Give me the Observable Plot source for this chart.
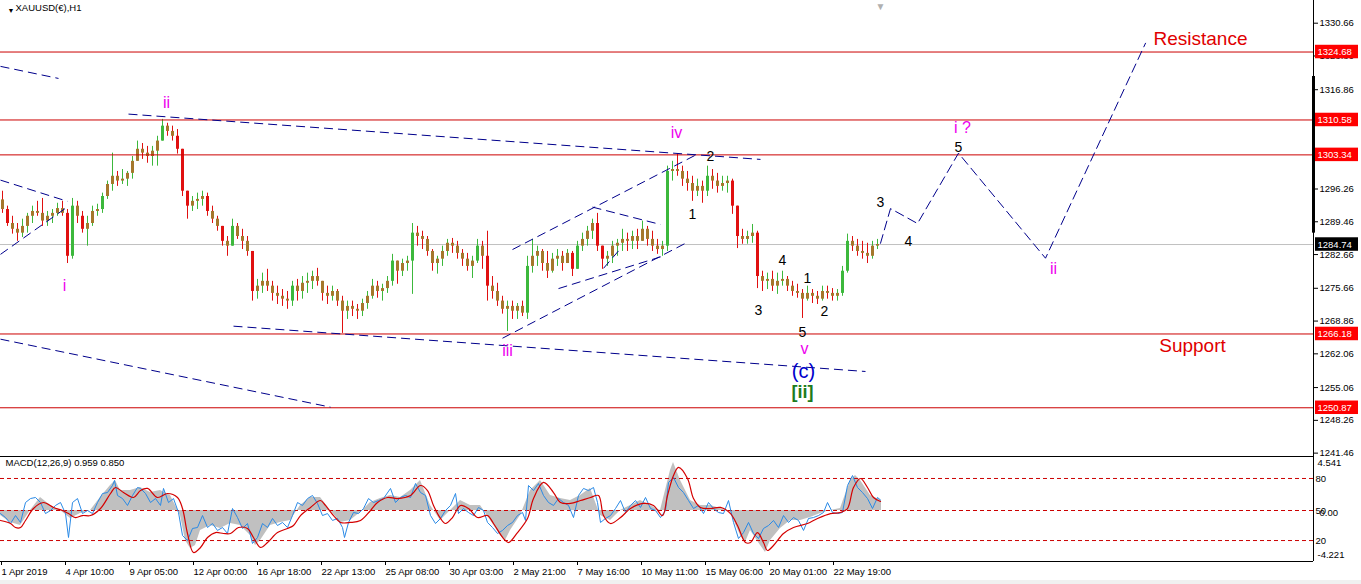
<!DOCTYPE html>
<html><head><meta charset="utf-8">
<script src="https://cdn.jsdelivr.net/npm/d3@7"></script>
<script src="https://cdn.jsdelivr.net/npm/@observablehq/plot@0.6"></script>
<style>
html,body{margin:0;padding:0;background:#fff;}
#wrap{position:relative;width:1361px;height:584px;overflow:hidden;background:#fff;}
#main{position:absolute;left:0;top:0;}
#macd{position:absolute;left:0;top:456px;}
#strip{position:absolute;left:0;top:580px;width:1361px;height:4px;background:#f0f0f0;}
</style></head><body>
<div id="wrap"><div id="main"></div><div id="macd"></div><div id="strip"></div></div>
<script>
// ---------- DATA ----------
const titleText = "XAUUSD(€),H1";
const priceTicks = [1330.66,1323.86,1316.86,1310.06,1303.26,1296.26,1289.46,1282.66,1275.66,1268.86,1262.06,1255.06,1248.26,1241.46];
const levels = [1324.68,1310.58,1303.34,1266.18,1250.87];
const lastPrice = 1284.74;
const scaleBar = [1319.6, 1287.1];

// H1 candles aggregated in groups of 5 bars
const barsPerCandle = 5;
const firstOpen = 1294.0;
const candleHigh = [1295.8,1292.7,1290.6,1289.1,1290.0,1291.2,1292.7,1293.7,1294.3,1291.6,
1292.0,1293.3,1293.7,1292.0,1294.3,1293.7,1291.6,1290.6,1292.7,1293.1,
1295.4,1297.9,1303.7,1299.9,1300.3,1299.9,1303.0,1306.2,1305.7,1305.1,
1305.1,1307.2,1310.7,1309.9,1309.3,1308.6,1304.5,1295.8,1294.7,1295.4,
1295.8,1295.4,1292.7,1290.6,1288.5,1286.4,1290.0,1289.1,1287.9,1286.4,
1283.3,1277.5,1278.8,1279.6,1277.1,1276.1,1275.4,1275.0,1277.1,1277.5,
1278.1,1278.8,1279.2,1279.8,1277.1,1276.1,1276.1,1275.4,1274.0,1273.0,
1273.0,1272.3,1273.4,1275.0,1277.5,1277.1,1276.5,1278.1,1282.7,1280.8,
1281.7,1282.3,1289.1,1288.5,1287.5,1286.4,1283.7,1282.3,1284.4,1285.8,
1286.0,1285.4,1283.7,1282.9,1282.3,1285.8,1285.4,1287.5,1278.1,1276.7,
1274.0,1273.0,1273.0,1272.5,1273.0,1282.3,1285.8,1284.4,1283.7,1283.3,
1282.9,1283.7,1283.3,1283.7,1283.3,1285.4,1287.1,1288.5,1290.0,1291.2,
1284.4,1283.3,1285.4,1285.8,1287.9,1287.1,1287.5,1287.9,1289.6,1288.5,
1287.5,1285.8,1285.4,1301.0,1302.0,1303.5,1301.0,1299.9,1298.9,1298.3,
1297.9,1301.0,1300.3,1299.5,1298.9,1298.9,1298.3,1292.7,1287.9,1287.5,
1288.9,1287.5,1279.2,1278.8,1279.2,1278.8,1279.2,1278.1,1277.1,1276.5,
1275.4,1276.1,1275.4,1275.0,1276.1,1276.1,1275.6,1275.4,1280.2,1286.9,
1286.4,1285.8,1285.4,1285.0,1285.4,1285.8];
const candleLow = [1291.2,1288.5,1286.9,1285.4,1286.2,1287.1,1289.1,1290.6,1288.5,1288.5,
1289.1,1290.6,1290.6,1280.8,1281.7,1289.1,1287.1,1284.4,1288.5,1290.6,
1291.2,1294.1,1295.8,1296.8,1297.2,1296.8,1298.3,1302.0,1302.4,1301.6,
1301.0,1301.0,1306.2,1307.2,1306.2,1303.5,1294.7,1290.0,1291.6,1292.0,
1292.7,1290.6,1289.1,1287.5,1284.4,1282.3,1285.4,1285.8,1283.7,1282.3,
1273.0,1273.4,1274.6,1275.0,1273.0,1272.3,1271.9,1271.3,1271.9,1273.0,
1273.4,1274.6,1275.4,1276.1,1273.0,1272.3,1273.0,1271.9,1266.3,1269.2,
1269.8,1269.2,1269.8,1271.3,1273.4,1273.6,1273.0,1274.6,1276.1,1276.5,
1278.1,1279.2,1274.4,1284.4,1283.7,1282.3,1279.2,1278.6,1280.2,1282.3,
1282.9,1281.7,1280.2,1279.2,1277.7,1280.8,1279.6,1273.0,1273.4,1271.9,
1270.3,1266.7,1269.2,1269.2,1269.8,1269.2,1278.8,1280.2,1279.2,1277.7,
1278.8,1280.2,1279.2,1280.8,1278.1,1280.8,1283.3,1284.4,1285.8,1283.3,
1279.6,1280.2,1280.8,1282.3,1283.3,1283.3,1283.7,1283.7,1285.4,1284.4,
1283.3,1282.7,1282.3,1283.3,1297.9,1298.9,1296.8,1295.8,1293.7,1294.7,
1293.3,1294.7,1296.2,1295.4,1295.8,1295.4,1291.0,1283.9,1284.8,1284.8,
1285.0,1275.6,1275.0,1275.4,1275.0,1274.4,1276.1,1275.0,1274.0,1273.6,
1269.4,1273.0,1272.5,1272.3,1273.0,1273.4,1273.0,1273.0,1274.0,1278.8,
1283.3,1282.3,1281.7,1280.8,1281.7,1283.7];
const candleClose = [1292.0,1289.1,1287.9,1287.1,1288.5,1290.6,1291.6,1291.2,1289.6,1290.6,
1291.2,1292.2,1291.2,1282.3,1292.7,1290.6,1287.9,1289.1,1291.6,1292.0,
1294.7,1297.2,1298.9,1297.9,1298.3,1299.5,1302.0,1304.5,1303.7,1303.0,
1304.1,1306.2,1309.3,1308.2,1307.2,1304.5,1295.8,1292.7,1293.7,1294.1,
1294.7,1291.6,1290.0,1288.5,1285.4,1284.4,1288.5,1286.4,1285.4,1283.3,
1275.0,1276.1,1277.1,1276.1,1274.6,1274.0,1273.4,1273.0,1276.1,1275.0,
1276.7,1277.1,1278.1,1277.1,1274.6,1274.0,1275.0,1273.0,1270.9,1271.9,
1271.3,1270.9,1272.5,1274.0,1276.1,1275.0,1275.6,1277.1,1281.3,1279.2,
1280.8,1281.3,1287.1,1286.4,1285.8,1283.3,1280.8,1281.7,1283.3,1285.0,
1284.4,1282.9,1281.7,1280.2,1281.3,1284.4,1282.3,1276.1,1275.0,1273.0,
1271.3,1271.9,1270.9,1271.9,1270.5,1280.2,1282.3,1283.3,1280.8,1279.2,
1281.7,1282.3,1280.8,1282.9,1279.6,1284.4,1285.8,1287.5,1289.1,1284.4,
1281.7,1282.3,1284.4,1285.0,1285.8,1285.4,1286.4,1285.4,1287.9,1285.8,
1284.4,1283.7,1284.4,1299.9,1300.3,1299.9,1298.3,1297.4,1295.8,1296.8,
1295.8,1298.9,1297.9,1296.8,1297.4,1297.9,1292.7,1286.4,1285.8,1286.4,
1287.1,1278.1,1277.1,1277.5,1276.1,1277.1,1277.5,1276.1,1275.0,1274.6,
1273.4,1274.6,1274.0,1273.4,1275.0,1274.6,1274.0,1274.6,1279.2,1285.4,
1284.4,1283.3,1282.9,1282.3,1284.4,1284.74];

// dashed trend lines: [bar1, price1, bar2, price2]
const trendLines = [
  [0,1321.7,58,1319.2],
  [0,1298.1,67,1293.7],
  [0,1282.7,68,1292.7],
  [0,1265.1,330,1251.0],
  [128,1311.8,760,1302.4],
  [233,1267.8,865,1258.4],
  [502,1265.3,685,1285.0],
  [512,1283.7,697,1303.5],
  [592,1292.5,660,1288.9],
  [558,1275.6,662,1282.3],
  [603,1279.8,620,1283.9]
];
// projected wave path: [bar, price]
const projection = [[880,1285.0],[890,1292.2],[917,1289.1],[958,1303.7],[1045,1281.9],[1145,1326.5]];

// wave labels: [text, bar, price, style]
const waveLabels = [
  ["i",64,1276.1,"m"],["ii",166,1314.2,"m"],["iii",507,1262.6,"m"],["iv",676,1308.0,"m"],
  ["v",804,1263.0,"m"],["i ?",962,1308.85,"m"],["ii",1053,1279.6,"m"],
  ["1",692,1291.0,"k"],["2",710,1303.0,"k"],["3",758,1271.1,"k"],["4",782,1281.5,"k"],
  ["1",807,1277.7,"k"],["2",824,1270.9,"k"],["5",802,1266.5,"k"],
  ["3",880,1293.5,"k"],["4",908,1285.4,"k"],["5",958,1304.9,"k"],
  ["(c)",803,1258.4,"c"],["[ii]",802,1254.1,"g"],
  ["Resistance",1200,1327.3,"r"],["Support",1192,1263.8,"r"]
];

const timeLabels = ["1 Apr 2019","4 Apr 10:00","9 Apr 05:00","12 Apr 00:00","16 Apr 18:00","22 Apr 13:00","25 Apr 08:00","30 Apr 03:00","2 May 21:00","7 May 16:00","10 May 11:00","15 May 06:00","20 May 01:00","22 May 19:00"];
const timeTickBars = [0,64,128,192,256,320,384,448,512,576,640,704,768,832];

// MACD panel: [bar, value]
const macdTitle = "MACD(12,26,9) 0.959 0.850";
const macdHist = [[0,-0.48],[10,-1.14],[20,-1.43],[30,0],[40,1.24],[50,0.48],[60,0],[70,-0.76],[80,-0.29],[90,0],[100,1.24],[110,2.38],[115,2.86],[120,1.90],[130,1.90],[140,2.19],[150,1.71],[160,1.90],[170,1.43],[180,-0.48],[185,-2.86],[190,-3.62],[195,-3.33],[200,-1.90],[210,-1.43],[220,-1.71],[230,-1.24],[240,-1.43],[250,-2.38],[255,-3.33],[260,-2.86],[270,-1.43],[280,-1.14],[290,-0.95],[300,0.48],[310,1.24],[320,1.24],[330,0],[340,-1.14],[350,-0.95],[360,-0.19],[370,0.76],[380,1.14],[390,1.43],[400,1.24],[410,1.90],[420,2.86],[430,0.48],[440,-0.95],[450,0],[460,0.95],[470,0.48],[480,0.48],[490,-0.95],[500,-2.38],[505,-2.86],[510,-1.90],[520,-0.48],[530,1.90],[540,2.86],[550,1.43],[560,1.14],[570,0.95],[580,1.43],[590,2.10],[600,-0.48],[610,-0.95],[620,0],[630,0.48],[640,0.95],[650,0.48],[660,0],[665,1.90],[670,3.81],[673,4.57],[680,2.86],[690,0.95],[700,0.48],[710,0.48],[720,0.19],[730,-0.19],[740,-2.38],[745,-3.05],[750,-1.90],[760,-3.33],[765,-4.00],[770,-2.86],[780,-1.71],[790,-0.95],[800,-0.95],[810,-0.67],[820,-0.29],[830,0],[840,0.19],[850,2.86],[855,3.33],[860,2.86],[870,1.43],[881,0.95]];
const macdBlue = [[0,-0.29],[5,-0.67],[10,-1.24],[15,-0.48],[20,-1.14],[25,0.76],[30,1.14],[35,1.24],[40,0.76],[45,-0.29],[50,0],[55,0.48],[60,0.76],[65,-0.29],[68,-2.57],[72,0.76],[77,1.14],[82,-0.29],[87,0],[92,-0.29],[97,0.76],[102,1.62],[107,1.71],[112,2.38],[114,2.86],[117,1.43],[122,1.14],[127,0.48],[132,1.43],[137,2.19],[140,2.10],[145,1.62],[150,0.76],[155,1.14],[160,0.48],[163,2.10],[168,0.76],[173,1.14],[178,-0.19],[182,-2.38],[187,-2.86],[192,-1.71],[197,-1.62],[202,-0.48],[207,-1.62],[212,-1.24],[217,-1.90],[222,-1.62],[227,-2.19],[232,0.19],[237,-0.67],[242,-1.71],[247,-1.24],[252,-3.14],[257,-2.57],[262,-1.24],[267,-1.62],[272,-0.76],[277,-1.43],[282,-1.14],[287,-1.62],[292,-0.48],[297,0.76],[302,0.48],[307,1.14],[312,1.43],[317,0.67],[322,-0.48],[327,-0.29],[332,-0.95],[337,-0.76],[342,-1.62],[344,-2.57],[348,-1.14],[353,-0.19],[358,-0.29],[363,0.19],[368,1.14],[373,0.76],[378,0.95],[383,1.14],[390,2.10],[395,0.76],[400,1.24],[405,1.43],[410,1.24],[415,2.57],[420,1.71],[425,1.43],[430,-0.48],[435,-1.24],[440,-0.76],[445,0],[450,0.48],[455,1.62],[458,-0.29],[463,0.19],[468,-0.19],[473,-0.48],[478,0.29],[483,0],[487,-1.14],[492,-1.62],[497,-2.19],[502,-1.90],[507,-1.43],[512,-1.14],[517,-0.48],[522,-0.19],[525,-0.95],[528,2.38],[533,1.90],[538,2.57],[543,1.43],[548,0.76],[553,0.48],[558,1.14],[563,0.76],[568,0.48],[573,-0.67],[578,1.43],[583,2.10],[588,1.90],[593,2.19],[597,0.76],[600,-1.14],[605,-0.76],[610,-0.48],[615,0.19],[620,0.95],[625,-0.19],[630,0.48],[635,0.95],[640,0.29],[645,1.24],[650,0.19],[655,0],[660,-0.67],[665,0],[668,2.67],[673,3.14],[678,2.19],[683,1.71],[688,0.95],[693,0.19],[698,0.48],[703,-0.29],[708,0.76],[713,0.19],[718,-0.19],[723,-0.29],[728,0.95],[733,-1.14],[738,-2.67],[743,-2.10],[748,-1.14],[753,-2.19],[758,-2.67],[763,-1.71],[768,-1.43],[773,-0.95],[778,-1.62],[783,-0.48],[788,-1.14],[793,-0.67],[798,-0.95],[803,-1.90],[808,-0.76],[813,-0.67],[818,-0.48],[823,-0.19],[827,0.76],[832,-0.19],[837,-0.29],[842,-0.19],[847,2.38],[852,3.33],[857,2.19],[862,1.71],[867,1.14],[872,0.19],[877,1.24],[880,1.0]];
const macdSignal = [[0,-0.95],[10,-1.24],[15,-1.62],[20,-1.62],[25,-0.95],[33,0.19],[43,0.76],[53,0.29],[62,0],[68,-0.29],[75,-0.67],[82,-0.48],[90,-0.48],[100,0.19],[110,1.62],[115,2.19],[123,1.71],[133,1.24],[140,1.90],[147,2.10],[157,1.24],[167,1.62],[177,1.24],[182,0.19],[187,-2.19],[193,-4.00],[200,-3.52],[207,-2.57],[215,-2.10],[223,-2.19],[230,-2.19],[238,-1.62],[247,-1.71],[253,-2.57],[260,-3.52],[267,-3.05],[277,-2.10],[287,-1.71],[293,-1.43],[300,-0.48],[310,0.29],[320,0.95],[325,0.48],[333,-0.48],[340,-1.14],[350,-1.14],[360,-0.95],[370,0],[377,0.76],[387,1.24],[397,1.14],[410,1.43],[420,2.38],[427,1.90],[433,0.48],[440,-0.76],[445,-1.24],[452,-0.67],[460,0.48],[468,0.19],[477,-0.67],[487,-0.48],[493,-1.24],[503,-2.67],[508,-3.05],[517,-2.10],[527,-0.76],[533,1.14],[543,2.67],[553,1.71],[560,0.76],[570,0.67],[580,0.95],[590,1.24],[598,1.43],[603,-0.48],[610,-1.24],[620,-0.67],[630,0.19],[643,0.67],[653,0.48],[662,-0.48],[667,1.43],[673,3.33],[678,4.10],[687,3.05],[693,1.14],[700,0.29],[710,0.19],[720,0.29],[730,-0.29],[737,-1.43],[745,-3.05],[750,-3.05],[757,-2.10],[763,-3.05],[767,-3.81],[773,-3.33],[783,-2.19],[793,-1.62],[807,-1.24],[817,-0.76],[830,-0.29],[840,-0.19],[847,0.19],[853,2.19],[860,3.05],[867,2.19],[873,1.24],[880,0.86]];
const macdLevels = [{v:3.05,label:"80"},{v:0,label:"50"},{v:-2.86,label:"20"}];
const macdScale = [4.541, -4.221];
const macdZeroLabel = "0.00";

// ---------- DRAWING ----------
const W = 1361, AX = 1313, MR = W - AX;
const FONT = "'Liberation Sans', Arial, sans-serif";
const UP = "#3cb83c", DOWN = "#e01010", BODY = "#a5772c";
const LEVEL = "#cc0000", NAVY = "#00008b", MAG = "#ee00ee";

const candles = candleClose.map((c, i) => {
  const open = i ? candleClose[i - 1] : firstOpen;
  return {x: i * barsPerCandle + 2, open, close: c,
          high: Math.max(candleHigh[i], open, c), low: Math.min(candleLow[i], open, c)};
});
const shiftMarker = [{x: candles[candles.length - 1].x + 3}];
const wickColor = d => d.close >= d.open ? UP : DOWN;
const bodyColor = d => Math.abs(d.close - d.open) > 2.5 ? wickColor(d) : BODY;

const labelStyles = {
  m: {fill: MAG, fontSize: 16},
  k: {fill: "#000", fontSize: 14},
  c: {fill: "#0000cc", fontSize: 20},
  g: {fill: "#1e7b1e", fontSize: 18, fontWeight: "bold"},
  r: {fill: "#e00000", fontSize: 19}
};
const labelMarks = Object.entries(labelStyles).map(([k, s]) =>
  Plot.text(waveLabels.filter(d => d[3] === k), {x: d => d[1], y: d => d[2], text: d => d[0], fontFamily: FONT, ...s}));

const Y0 = 1240.76, Y1 = 1335.37;
const main = Plot.plot({
  width: W, height: 456, marginLeft: 0, marginRight: MR, marginTop: 0, marginBottom: 0,
  x: {type: "linear", domain: [0, AX], axis: null},
  y: {type: "linear", domain: [Y0, Y1], axis: null},
  style: {fontFamily: FONT, fontSize: "9.5px", background: "white", overflow: "visible"},
  marks: [
    Plot.ruleY([lastPrice], {stroke: "#c0c0c0"}),
    Plot.ruleX(candles, {x: "x", y1: "low", y2: "high", stroke: wickColor, strokeWidth: 1}),
    Plot.ruleX(candles, {x: "x", y1: "open", y2: "close", stroke: bodyColor, strokeWidth: 3}),
    Plot.ruleY(levels, {stroke: LEVEL, strokeWidth: 1}),
    Plot.link(trendLines, {x1: d => d[0], y1: d => d[1], x2: d => d[2], y2: d => d[3], stroke: NAVY, strokeWidth: 1, strokeDasharray: "9,5"}),
    Plot.line(projection, {x: d => d[0], y: d => d[1], stroke: NAVY, strokeWidth: 1, strokeDasharray: "9,5"}),
    ...labelMarks,
    Plot.ruleX([AX], {stroke: "#000"}),
    Plot.ruleY([Y0], {stroke: "#000"}),
    Plot.ruleX([AX], {y1: scaleBar[0], y2: scaleBar[1], stroke: "#000", strokeWidth: 3}),
    Plot.text(shiftMarker, {x: "x", frameAnchor: "top", dy: 2, text: () => "▼", fill: "#b0b0b0", fontSize: 10}),
    Plot.axisY(priceTicks, {anchor: "right", tickSize: 4, tickPadding: 2, tickFormat: d => d.toFixed(2), fontSize: 9.5, fill: "#000"}),
    Plot.rect(levels, {x1: AX + 2, x2: W - 3, y1: d => d - 1.4, y2: d => d + 1.4, fill: "#ff0000"}),
    Plot.text(levels, {x: AX + 4, y: d => d, text: d => d.toFixed(2), fill: "white", textAnchor: "start", fontSize: 9.5}),
    Plot.rect([lastPrice], {x1: AX + 2, x2: W - 3, y1: d => d - 1.4, y2: d => d + 1.4, fill: "#000"}),
    Plot.text([lastPrice], {x: AX + 4, y: d => d, text: d => d.toFixed(2), fill: "white", textAnchor: "start", fontSize: 9.5}),
    Plot.text(["▼"], {frameAnchor: "top-left", dx: 7, dy: 8, fontSize: 7}),
    Plot.text([titleText], {frameAnchor: "top-left", dx: 15, dy: 4, textAnchor: "start", lineAnchor: "top", fontSize: 9.5})
  ]
});
document.getElementById("main").appendChild(main);

const macd = Plot.plot({
  width: W, height: 128, marginLeft: 0, marginRight: MR, marginTop: 0, marginBottom: 23,
  x: {type: "linear", domain: [0, AX], axis: null},
  y: {type: "linear", domain: [-4.857, 5.143], axis: null},
  style: {fontFamily: FONT, fontSize: "9.5px", background: "white", overflow: "visible"},
  marks: [
    Plot.areaY(macdHist, {x: d => d[0], y: d => d[1], fill: "#c0c0c0"}),
    Plot.ruleY(macdLevels, {y: "v", stroke: LEVEL, strokeDasharray: "4,3"}),
    Plot.line(macdBlue, {x: d => d[0], y: d => d[1], stroke: "#2a8ae6", strokeWidth: 1}),
    Plot.line(macdSignal, {x: d => d[0], y: d => d[1], stroke: "#d40000", strokeWidth: 1.2, curve: "catmull-rom"}),
    Plot.ruleY([5.143], {stroke: "#000"}),
    Plot.ruleY([-4.857], {stroke: "#000"}),
    Plot.ruleX([AX], {stroke: "#000"}),
    Plot.text([macdTitle], {frameAnchor: "top-left", dx: 5, dy: 3, textAnchor: "start", lineAnchor: "top", fontSize: 9.5}),
    Plot.text(macdLevels, {x: AX + 2, y: "v", text: "label", textAnchor: "start", fontSize: 9.5}),
    Plot.text([0], {x: AX + 6, y: d => d, dy: 2, text: () => macdZeroLabel, textAnchor: "start", fontSize: 9.5}),
    Plot.text(macdScale, {x: AX + 4, y: d => d, text: d => d.toFixed(3), textAnchor: "start", fontSize: 9.5}),
    Plot.axisX(timeTickBars, {anchor: "bottom", tickSize: 4, tickPadding: 3, textAnchor: "start", dx: 1,
      tickFormat: d => timeLabels[timeTickBars.indexOf(d)], fontSize: 9.5, fill: "#000"})
  ]
});
document.getElementById("macd").appendChild(macd);
</script></body></html>
